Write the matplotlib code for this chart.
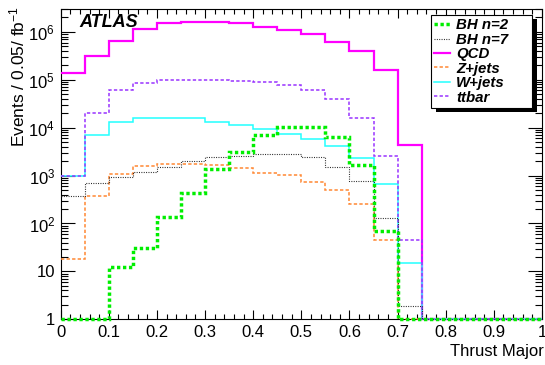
import numpy as np
import matplotlib
matplotlib.use("Agg")
import matplotlib.pyplot as plt
from matplotlib.ticker import FixedLocator, MultipleLocator, LogLocator, FuncFormatter, NullFormatter
from matplotlib.lines import Line2D
from matplotlib.patches import Rectangle

plt.rcParams['font.family'] = ['Liberation Sans', 'DejaVu Sans']
plt.rcParams['mathtext.fontset'] = 'custom'
plt.rcParams['mathtext.rm'] = 'Liberation Sans'
plt.rcParams['mathtext.it'] = 'Liberation Sans:italic'
plt.rcParams['mathtext.bf'] = 'Liberation Sans:bold'
plt.rcParams['lines.scale_dashes'] = False

# ---- data (events per 0.05 bin of Thrust Major, 1 fb^-1) ----
bin_edges = np.round(np.arange(0, 1.0001, 0.05), 2)
bh_n2 = [0, 0, 12.5, 31, 139, 427, 1.39e3, 3.16e3, 7.0e3, 1.05e4, 1.05e4, 6.4e3, 1.64e3, 70, 0, 0, 0, 0, 0, 0]
bh_n7 = [380, 690, 950, 1.19e3, 1.49e3, 2.05e3, 2.48e3, 2.6e3, 2.87e3, 2.85e3, 2.48e3, 1.54e3, 770, 130, 1.86, 0, 0, 0, 0, 0]
qcd = [1.41e5, 3.14e5, 6.5e5, 1.17e6, 1.55e6, 1.63e6, 1.6e6, 1.51e6, 1.28e6, 1.08e6, 8.9e5, 6.3e5, 3.9e5, 1.58e5, 4.4e3, 0, 0, 0, 0, 0]
zjets = [17.9, 380, 1.06e3, 1.61e3, 1.77e3, 1.78e3, 1.65e3, 1.42e3, 1.15e3, 1.03e3, 740, 500, 260, 45, 0, 0, 0, 0, 0, 0]
wjets = [1.0e3, 7.1e3, 1.3e4, 1.59e4, 1.6e4, 1.57e4, 1.3e4, 1.14e4, 9.5e3, 7.4e3, 5.7e3, 4.15e3, 2.3e3, 670, 15, 0, 0, 0, 0, 0]
ttbar = [980, 2.06e4, 6.1e4, 8.7e4, 9.8e4, 9.9e4, 9.9e4, 9.6e4, 8.9e4, 7.7e4, 6.1e4, 3.9e4, 1.59e4, 2.6e3, 45, 0, 0, 0, 0, 0]

labels = ["BH n=2", "BH n=7", "QCD", "Z+jets", "W+jets", "ttbar"]
x_ticks = [0, 0.1, 0.2, 0.3, 0.4, 0.5, 0.6, 0.7, 0.8, 0.9, 1]
y_ticks = [1, 10, 1e2, 1e3, 1e4, 1e5, 1e6]

W, H = 545, 365
fig = plt.figure(figsize=(W / 100, H / 100), dpi=100)
ax = fig.add_axes([60.7 / W, 1 - 319.3 / H, (542 - 60.7) / W, (319.3 - 9) / H])
ax.set_yscale('log')
ymin, ymax = 1, 10 ** 6.478
ax.set_xlim(0, 1)
ax.set_ylim(ymin, ymax)

styles = {
    "QCD": dict(color='#ff00ff', lw=1.6, ls='-'),
    "Z+jets": dict(color='#ff8833', lw=1.1, ls=(0, (2.4, 1.6))),
    "W+jets": dict(color='#22ffff', lw=1.1, ls='-'),
    "ttbar": dict(color='#9933ff', lw=1.1, ls=(0, (2.4, 1.6))),
    "BH n=7": dict(color='#222222', lw=0.8, ls=(0, (0.7, 1.0))),
    "BH n=2": dict(color='#00ee00', lw=2.5, ls=(0, (2.4, 1.9))),
}
series = {"BH n=2": bh_n2, "BH n=7": bh_n7, "QCD": qcd, "Z+jets": zjets,
          "W+jets": wjets, "ttbar": ttbar}
order = ["QCD", "Z+jets", "W+jets", "ttbar", "BH n=7", "BH n=2"]
for z, name in enumerate(order):
    vals = np.maximum(np.asarray(series[name], float), ymin)
    st = styles[name]
    ax.stairs(vals, bin_edges, baseline=None, color=st['color'], linewidth=st['lw'],
              linestyle=st['ls'], zorder=3 + z, clip_on=False)

# axes styling (ROOT-like)
for s in ax.spines.values():
    s.set_linewidth(0.8)
ax.xaxis.set_major_locator(FixedLocator(x_ticks))
ax.xaxis.set_minor_locator(MultipleLocator(0.02))
ax.xaxis.set_major_formatter(FuncFormatter(lambda v, p: f"{v:g}"))
ax.yaxis.set_major_locator(FixedLocator(y_ticks))
ax.yaxis.set_minor_locator(LogLocator(base=10, subs=np.arange(2, 10)))
ax.yaxis.set_minor_formatter(NullFormatter())

def yfmt(v, p):
    e = int(round(np.log10(v)))
    if e == 0:
        return "1"
    if e == 1:
        return "10"
    return r"$\mathregular{10^{%d}}$" % e
ax.yaxis.set_major_formatter(FuncFormatter(yfmt))

ax.tick_params(which='both', direction='in', top=True, right=True, width=0.8, labelsize=12)
ax.tick_params(axis='x', which='major', length=6.7, pad=4)
ax.tick_params(axis='x', which='minor', length=3.4)
ax.tick_params(axis='y', which='major', length=10.3, pad=4)
ax.tick_params(axis='y', which='minor', length=5.2)

ax.set_xlabel("Thrust Major", fontsize=12)
ax.xaxis.set_label_coords(1.004, -0.104)
ax.xaxis.label.set_ha('right')
ax.xaxis.label.set_va('center')
ax.set_ylabel("Events / 0.05/ fb$^{-1}$", fontsize=12.5, loc='top')
ax.yaxis.set_label_coords(-0.089, 1.01)
ax.yaxis.label.set_ha('right')
ax.yaxis.label.set_va('center')

ax.text(0.0397, 0.958, "ATLAS", transform=ax.transAxes, fontsize=13,
        fontweight='bold', fontstyle='italic', va='center', ha='left')

# legend
handles = [Line2D([], [], color=styles[n]['color'], lw=styles[n]['lw'], ls=styles[n]['ls'])
           for n in labels]
top = 1 - 15 / H
hgt = 92 / H
leg = ax.legend(handles, labels, loc='upper left',
                bbox_to_anchor=(431 / W, top - hgt, 101 / W, hgt),
                bbox_transform=fig.transFigure, mode='expand', borderaxespad=0,
                frameon=True, fancybox=False, edgecolor='black', framealpha=1,
                prop=dict(family='Liberation Sans', weight='bold', style='italic', size=10.8),
                handlelength=1.05, handletextpad=0.4, labelspacing=0.03,
                borderpad=0.22)
leg.get_frame().set_linewidth(0.8)
leg.set_zorder(20)

fig.canvas.draw()
bb = leg.get_window_extent()
shadow = Rectangle((bb.x0 + 5, bb.y0 - 4), bb.width, bb.height, transform=None,
                   facecolor='black', edgecolor='none', zorder=19, clip_on=False)
ax.add_artist(shadow)

fig.savefig("out.png", dpi=100)
